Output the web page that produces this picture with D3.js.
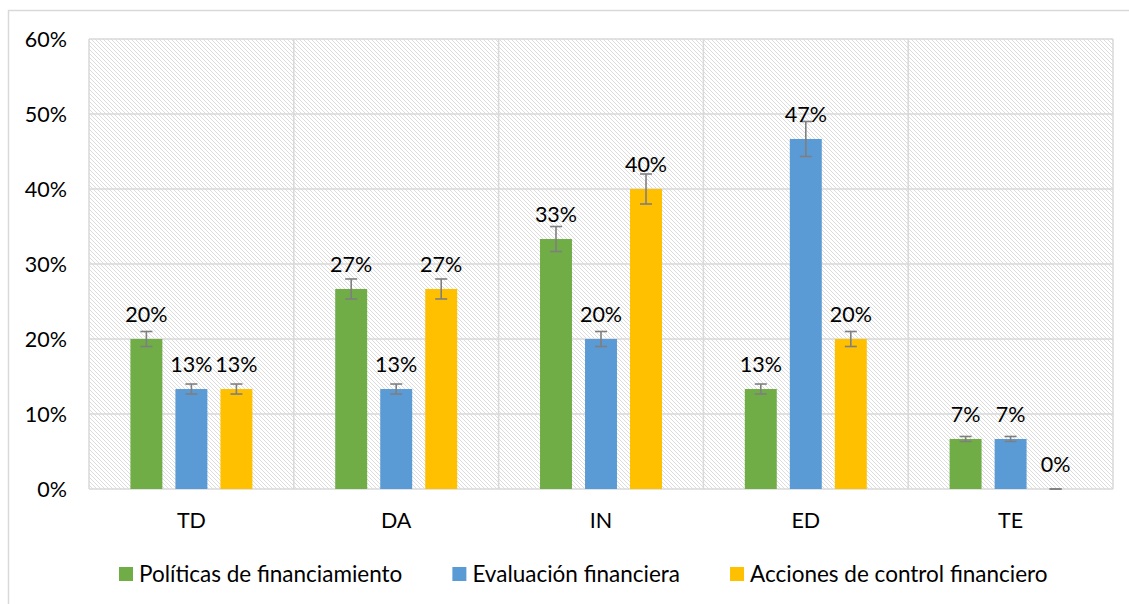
<!DOCTYPE html>
<html><head><meta charset="utf-8">
<script src="https://cdn.jsdelivr.net/npm/d3@7"></script>
<style>
html,body{margin:0;padding:0;background:#fff;}
svg{display:block;font-family:Lato, "Open Sans", sans-serif;}
</style></head>
<body>
<svg id="chart" width="1129" height="604"></svg>
<script>
const categories = ["TD", "DA", "IN", "ED", "TE"];
const seriesNames = ["Políticas de financiamiento", "Evaluación financiera", "Acciones de control financiero"];
const politicas = [0.2000, 0.2667, 0.3333, 0.1333, 0.0667];
const evaluacion = [0.1333, 0.1333, 0.2000, 0.4667, 0.0667];
const acciones = [0.1333, 0.2667, 0.4000, 0.2000, 0.0000];
const yTicks = [0, 0.1, 0.2, 0.3, 0.4, 0.5, 0.6];
const colors = ["#70AD47", "#5B9BD5", "#FFC000"];
const errorPct = 0.05;

const seriesValues = [politicas, evaluacion, acciones];
const svg = d3.select("#chart");

const plot = {left: 89, right: 1113, top: 39, bottom: 489};
const fontSize = 21.5;
const legendFontSize = 22.5;

// outer chart border
svg.append("rect").attr("x", 8.5).attr("y", 10.5).attr("width", 1140).attr("height", 620)
  .attr("fill", "#fff").attr("stroke", "#D9D9D9").attr("stroke-width", 1.5);

// hatch pattern
const defs = svg.append("defs");
const pat = defs.append("pattern").attr("id", "hatch").attr("patternUnits", "userSpaceOnUse")
  .attr("width", 4).attr("height", 4);
pat.append("rect").attr("width", 4).attr("height", 4).attr("fill", "#fff");
for (let i = 0; i < 4; i++) {
  pat.append("rect").attr("x", i).attr("y", i).attr("width", 1).attr("height", 1).attr("fill", "#DCDCDC");
}

const x = d3.scaleBand().domain(categories).range([plot.left, plot.right]).padding(0);
const xs = d3.scaleBand().domain(d3.range(seriesNames.length)).range([0, x.bandwidth()])
  .paddingInner(0.29).paddingOuter(0.92);
const y = d3.scaleLinear().domain([0, 0.6]).range([plot.bottom, plot.top]);

// plot background
svg.append("rect").attr("x", plot.left).attr("y", plot.top)
  .attr("width", plot.right - plot.left).attr("height", plot.bottom - plot.top)
  .attr("fill", "url(#hatch)").attr("shape-rendering", "crispEdges");

// horizontal gridlines
svg.append("g").selectAll("line").data(yTicks).join("line")
  .attr("x1", plot.left).attr("x2", plot.right)
  .attr("y1", d => y(d)).attr("y2", d => y(d))
  .attr("stroke", "#D9D9D9").attr("stroke-width", 1.5);

// vertical gridlines (category boundaries)
const vbounds = categories.map(c => x(c)).concat([plot.right]);
svg.append("g").selectAll("line").data(vbounds).join("line")
  .attr("x1", d => d).attr("x2", d => d)
  .attr("y1", plot.top).attr("y2", plot.bottom)
  .attr("stroke", "#D9D9D9").attr("stroke-width", 1.5);

// y-axis labels
svg.append("g").selectAll("text").data(yTicks).join("text")
  .attr("x", 67).attr("y", d => y(d)).attr("dy", "0.35em")
  .attr("text-anchor", "end").attr("font-size", fontSize).attr("fill", "#000")
  .text(d => d3.format(".0%")(d));

// x-axis labels
svg.append("g").selectAll("text").data(categories).join("text")
  .attr("x", d => x(d) + x.bandwidth() / 2).attr("y", 520).attr("dy", "0.35em")
  .attr("text-anchor", "middle").attr("font-size", fontSize).attr("fill", "#000")
  .text(d => d);

// bars
const rows = [];
seriesValues.forEach((vals, si) => vals.forEach((v, ci) => rows.push({si, ci, v})));
const bx = d => x(categories[d.ci]) + xs(d.si);
svg.append("g").selectAll("rect").data(rows).join("rect")
  .attr("x", bx).attr("y", d => y(d.v))
  .attr("width", xs.bandwidth()).attr("height", d => y(0) - y(d.v))
  .attr("fill", d => colors[d.si]);

// error bars
const eb = svg.append("g").attr("stroke", "#7F7F7F").attr("stroke-width", 1.6);
rows.forEach(d => {
  const cx = bx(d) + xs.bandwidth() / 2;
  const e = d.v * errorPct;
  const y1 = y(d.v + e), y2 = y(d.v - e);
  eb.append("line").attr("x1", cx).attr("x2", cx).attr("y1", y1).attr("y2", y2);
  eb.append("line").attr("x1", cx - 6).attr("x2", cx + 6).attr("y1", y1).attr("y2", y1);
  eb.append("line").attr("x1", cx - 6).attr("x2", cx + 6).attr("y1", y2).attr("y2", y2);
});

// data labels
svg.append("g").selectAll("text").data(rows).join("text")
  .attr("x", d => bx(d) + xs.bandwidth() / 2).attr("y", d => y(d.v) - 25).attr("dy", "0.35em")
  .attr("text-anchor", "middle").attr("font-size", fontSize).attr("fill", "#000")
  .text(d => d3.format(".0%")(d.v));

// legend
const lg = svg.append("g");
let lx = 119;
const ly = 574;
seriesNames.forEach((name, i) => {
  lg.append("rect").attr("x", lx).attr("y", ly - 7).attr("width", 14).attr("height", 14).attr("fill", colors[i]);
  const t = lg.append("text").attr("x", lx + 20).attr("y", ly).attr("dy", "0.35em")
    .attr("font-size", legendFontSize).attr("fill", "#000").text(name);
  lx += 20 + t.node().getComputedTextLength() + 50;
});
</script>
</body></html>
